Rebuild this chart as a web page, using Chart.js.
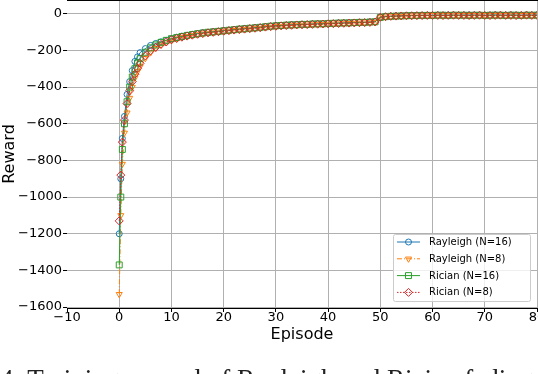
<!DOCTYPE html>
<html>
<head>
<meta charset="utf-8">
<script src="https://cdn.jsdelivr.net/npm/chart.js@4.4.1/dist/chart.umd.min.js"></script>
<style>
html, body { margin: 0; padding: 0; background: #fff; overflow: hidden; }
#wrap { position: relative; width: 538px; height: 374px; overflow: hidden; }
#caption { position: absolute; left: 0; top: 366px; font: 27px/27px "Liberation Serif"; color: #222; white-space: nowrap; }
</style>
</head>
<body>
<div id="wrap">
<canvas id="rewardChart" width="538" height="374"></canvas>
<div id="caption">4: Training reward of Rayleigh and Rician fading channels</div>
</div>
<script>
// episode positions (first episodes sampled finer)
const episodes = [0, 0.3, 0.6, 1, 1.5, 2, 2.5, 3, 3.5, 4,
    5, 6, 7, 8, 9, 10, 11, 12, 13, 14, 15, 16, 17, 18, 19, 20,
    21, 22, 23, 24, 25, 26, 27, 28, 29, 30, 31, 32, 33, 34, 35,
    36, 37, 38, 39, 40, 41, 42, 43, 44, 45, 46, 47, 48, 49, 50,
    51, 52, 53, 54, 55, 56, 57, 58, 59, 60, 61, 62, 63, 64, 65,
    66, 67, 68, 69, 70, 71, 72, 73, 74, 75, 76, 77, 78, 79, 80];

const rayleigh16 = [-1200, -900, -680, -560, -440, -370, -310, -260, -235, -212,
    -190, -173, -162, -153, -145, -137,
    -128, -122, -117, -112, -108, -103, -101, -97, -95, -91, -89, -86, -83, -80, -79,
    -75, -73, -70, -67, -64, -63, -62, -59, -59, -57, -57, -55, -55, -54, -52,
    -52, -50, -50, -48, -48, -46, -46, -45, -43,
    -18, -15, -13, -12, -11, -10, -9, -9, -8, -8, -8, -7, -8, -7, -7, -8,
    -7, -6, -7, -7, -8, -7, -6, -7, -7, -6, -7, -7, -6, -7, -6];
const rayleigh8 = [-1530, -1100, -820, -650, -540, -460, -400, -350, -315, -288,
    -243, -212, -188, -170, -157, -146,
    -136, -129, -123, -118, -113, -109, -105, -103, -99, -97, -93, -90, -88, -85, -83,
    -80, -78, -74, -72, -69, -67, -66, -64, -62, -61, -60, -59, -58, -57, -56,
    -55, -54, -53, -52, -51, -50, -49, -48, -46,
    -21, -17, -15, -14, -13, -12, -11, -11, -10, -10, -9, -10, -9, -9, -10, -9,
    -9, -8, -9, -10, -9, -9, -8, -9, -9, -10, -9, -8, -9, -9, -9];
const rician16 = [-1370, -1000, -740, -600, -480, -400, -345, -300, -268, -245,
    -210, -186, -170, -156, -145, -136,
    -130, -124, -118, -113, -109, -105, -101, -99, -96, -93, -90, -87, -84, -82, -79,
    -77, -74, -71, -68, -66, -64, -62, -61, -60, -58, -58, -56, -55, -55, -53,
    -52, -51, -50, -50, -48, -47, -47, -45, -44,
    -20, -16, -14, -13, -12, -11, -10, -10, -9, -9, -9, -8, -8, -9, -8, -8,
    -8, -9, -8, -8, -9, -8, -8, -8, -9, -8, -8, -9, -8, -8, -8];
const rician8 = [-1130, -880, -700, -580, -490, -420, -370, -330, -297, -270,
    -230, -202, -183, -167, -154, -142,
    -135, -128, -122, -117, -112, -108, -104, -101, -98, -95, -92, -89, -86, -84, -81,
    -79, -76, -73, -70, -68, -66, -64, -63, -61, -60, -59, -58, -57, -56, -55,
    -54, -53, -52, -51, -50, -49, -48, -47, -45,
    -19, -16, -14, -13, -12, -11, -11, -10, -10, -9, -9, -9, -10, -9, -8, -9,
    -9, -10, -9, -8, -9, -10, -9, -8, -9, -9, -10, -9, -8, -9, -9];

const xTicks = [-10, 0, 10, 20, 30, 40, 50, 60, 70, 80];
const yTicks = [-1600, -1400, -1200, -1000, -800, -600, -400, -200, 0];

function toPoints(values) {
    return episodes.map((x, i) => ({ x: x, y: values[i] }));
}

function minusLabel(v) {
    return v < 0 ? '\u2212' + Math.abs(v) : String(v);
}

// legend drawn inside the plot, lower right, matplotlib style
const legendBox = {
    id: 'legendBox',
    afterDraw(chart) {
        const ctx = chart.ctx;
        const area = chart.chartArea;
        const w = 137, h = 67;
        const x0 = area.right - 7 - w, y0 = area.bottom - 7 - h;
        ctx.save();
        ctx.fillStyle = 'rgba(255,255,255,0.8)';
        ctx.strokeStyle = '#cccccc';
        ctx.lineWidth = 1;
        ctx.beginPath();
        ctx.roundRect(x0 + 0.5, y0 + 0.5, w, h, 2);
        ctx.fill();
        ctx.stroke();
        ctx.font = '10px "DejaVu Sans"';
        ctx.textBaseline = 'middle';
        chart.data.datasets.forEach((ds, i) => {
            const cy = y0 + 8 + i * 16.8;
            ctx.strokeStyle = ds.borderColor;
            ctx.lineWidth = 1;
            ctx.setLineDash(ds.borderDash || []);
            ctx.beginPath();
            ctx.moveTo(x0 + 4, cy);
            ctx.lineTo(x0 + 27, cy);
            ctx.stroke();
            ctx.setLineDash([]);
            ctx.fillStyle = 'rgba(0,0,0,0)';
            Chart.helpers.drawPoint(ctx, {
                pointStyle: ds.pointStyle,
                rotation: ds.pointRotation || 0,
                radius: ds.pointRadius,
                borderWidth: 1
            }, x0 + 15.5, cy);
            ctx.fillStyle = '#000';
            ctx.fillText(ds.label, x0 + 36, cy + 0.5);
        });
        ctx.restore();
    }
};

const topSpine = {
    id: 'topSpine',
    afterDraw(chart) {
        const ctx = chart.ctx;
        const area = chart.chartArea;
        ctx.save();
        ctx.strokeStyle = '#000';
        ctx.lineWidth = 1;
        ctx.beginPath();
        ctx.moveTo(area.left, area.top + 0.5);
        ctx.lineTo(area.right + 1, area.top + 0.5);
        ctx.stroke();
        ctx.restore();
    }
};

const rewardChart = new Chart(document.getElementById('rewardChart'), {
    type: 'line',
    data: {
        datasets: [
            {
                label: 'Rayleigh (N=16)',
                data: toPoints(rayleigh16),
                borderColor: '#1f77b4',
                pointStyle: 'circle',
                pointRadius: 3,
                order: 3
            },
            {
                label: 'Rayleigh (N=8)',
                data: toPoints(rayleigh8),
                borderColor: '#ff7f0e',
                borderDash: [5, 2, 1, 2],
                pointStyle: 'triangle',
                pointRotation: 180,
                pointRadius: 3.5,
                order: 2
            },
            {
                label: 'Rician (N=16)',
                data: toPoints(rician16),
                borderColor: '#2ca02c',
                pointStyle: 'rect',
                pointRadius: 4.2,
                order: 1
            },
            {
                label: 'Rician (N=8)',
                data: toPoints(rician8),
                borderColor: '#d62728',
                borderDash: [1.5, 1.5],
                pointStyle: 'rectRot',
                pointRadius: 4,
                order: 0
            }
        ]
    },
    options: {
        responsive: false,
        animation: false,
        devicePixelRatio: 1,
        elements: {
            line: { borderWidth: 1, tension: 0, fill: false },
            point: { backgroundColor: 'rgba(0,0,0,0)', borderWidth: 1, hoverRadius: 4 }
        },
        layout: { autoPadding: false, padding: { top: 0, right: 1, bottom: 0, left: 0 } },
        plugins: {
            legend: { display: false },
            tooltip: { enabled: false }
        },
        scales: {
            x: {
                type: 'linear',
                min: -10,
                max: 80,
                afterBuildTicks: s => { s.ticks = xTicks.map(v => ({ value: v })); },
                afterFit: s => { s.height = 66; s.paddingLeft = 0; s.paddingRight = 0; },
                ticks: {
                    color: '#000',
                    font: { family: 'DejaVu Sans', size: 13 },
                    padding: -2,
                    maxRotation: 0,
                    autoSkip: false,
                    callback: minusLabel
                },
                grid: {
                    color: c => (c.tick && c.tick.value === -10) ? 'rgba(0,0,0,0)' : '#b0b0b0',
                    tickColor: '#000',
                    tickLength: 4,
                    lineWidth: 1
                },
                border: { display: true, color: '#000', width: 1 },
                title: {
                    display: true,
                    text: 'Episode',
                    color: '#000',
                    font: { family: 'DejaVu Sans', size: 16 },
                    padding: { top: 0, bottom: 30 }
                }
            },
            y: {
                type: 'linear',
                min: -1605,
                max: 75,
                afterBuildTicks: s => { s.ticks = yTicks.map(v => ({ value: v })); },
                afterFit: s => { s.width = 67; s.paddingTop = 0; s.paddingBottom = 0; },
                ticks: {
                    color: '#000',
                    font: { family: 'DejaVu Sans', size: 13 },
                    padding: 1,
                    autoSkip: false,
                    callback: minusLabel
                },
                grid: {
                    color: '#b0b0b0',
                    tickColor: '#000',
                    tickLength: 4,
                    lineWidth: 1
                },
                border: { display: false },
                title: {
                    display: true,
                    text: 'Reward',
                    color: '#000',
                    font: { family: 'DejaVu Sans', size: 16 },
                    padding: { top: 0, bottom: 0 }
                }
            }
        }
    },
    plugins: [legendBox, topSpine]
});
</script>
</body>
</html>
